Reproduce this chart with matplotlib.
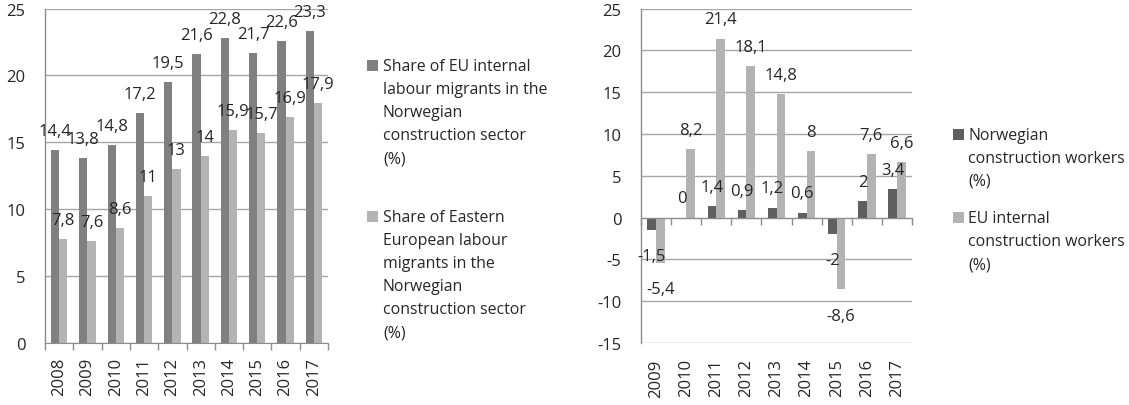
import matplotlib
matplotlib.use("Agg")
import matplotlib.pyplot as plt
from matplotlib.patches import Rectangle
from matplotlib.ticker import FixedLocator, NullFormatter

plt.rcParams['font.family'] = ['Open Sans', 'DejaVu Sans']

# ---------------- data ----------------
years_left = ['2008', '2009', '2010', '2011', '2012', '2013', '2014', '2015', '2016', '2017']
eu_share = [14.4, 13.8, 14.8, 17.2, 19.5, 21.6, 22.8, 21.7, 22.6, 23.3]
ee_share = [7.8, 7.6, 8.6, 11, 13, 14, 15.9, 15.7, 16.9, 17.9]
legend_left = ["Share of EU internal\nlabour migrants in the\nNorwegian\nconstruction sector\n(%)",
               "Share of Eastern\nEuropean labour\nmigrants in the\nNorwegian\nconstruction sector\n(%)"]

years_right = ['2009', '2010', '2011', '2012', '2013', '2014', '2015', '2016', '2017']
norw_growth = [-1.5, 0, 1.4, 0.9, 1.2, 0.6, -2, 2, 3.4]
eu_growth = [-5.4, 8.2, 21.4, 18.1, 14.8, 8, -8.6, 7.6, 6.6]
legend_right = ["Norwegian\nconstruction workers\n(%)",
                "EU internal\nconstruction workers\n(%)"]

yticks_left = [0, 5, 10, 15, 20, 25]
yticks_right = [-15, -10, -5, 0, 5, 10, 15, 20, 25]

# ---------------- style ----------------
W, H = 1129, 406
fig = plt.figure(figsize=(W / 100, H / 100), dpi=100)
TXT = '#262626'
GRID = '#a6a6a6'
FS = 12
FSL = 11.4
bw = 0.29


def fmt(v):
    return ('%g' % v).replace('.', ',')


def style_axes(ax, n, ymin, ymax, yticks):
    ax.set_xlim(-0.5, n - 0.5)
    ax.set_ylim(ymin, ymax)
    ax.set_yticks(yticks)
    ax.set_yticklabels([str(t) for t in yticks], fontsize=FS, color=TXT)
    ax.tick_params(axis='y', length=0, pad=14)
    ax.yaxis.grid(True, color=GRID, linewidth=1)
    ax.set_axisbelow(True)
    for s in ['top', 'right']:
        ax.spines[s].set_visible(False)
    ax.spines['left'].set_color('#8c8c8c')
    ax.spines['left'].set_linewidth(1)


def px_to_fig(x, y):
    return x / W, 1 - y / H


def legend(entries, colors, x_marker, x_text, y_first, line_h):
    for (label, color, yc) in zip(entries, colors, y_first):
        lines = label.split('\n')
        mx, my = px_to_fig(x_marker, yc + 5)
        fig.patches.append(Rectangle((mx, my), 11 / W, 11 / H, transform=fig.transFigure,
                                     facecolor=color, edgecolor='none'))
        for i, ln in enumerate(lines):
            tx, ty = px_to_fig(x_text, yc + i * line_h)
            fig.text(tx, ty, ln, fontsize=FSL, color=TXT, va='center', ha='left')


# ---------------- left chart ----------------
axL = fig.add_axes([45 / W, (H - 344) / H, (328 - 45) / W, (344 - 9.5) / H])
nL = len(years_left)
xL = list(range(nL))
c_dark_L, c_light = '#808080', '#b3b3b3'
b1 = axL.bar([x - bw / 2 for x in xL], eu_share, width=bw, color=c_dark_L, zorder=2)
b2 = axL.bar([x + bw / 2 for x in xL], ee_share, width=bw, color=c_light, zorder=2)
style_axes(axL, nL, 0, 25, yticks_left)
axL.set_xticks(xL)
axL.set_xticklabels(years_left, rotation=90, fontsize=FS, color=TXT)
axL.tick_params(axis='x', which='major', length=0, pad=10)
axL.xaxis.set_minor_locator(FixedLocator([i - 0.5 for i in range(nL + 1)]))
axL.tick_params(axis='x', which='minor', length=5, color='#8c8c8c', width=1)
axL.spines['bottom'].set_color('#8c8c8c')
for bars, vals in ((b1, eu_share), (b2, ee_share)):
    for r, v in zip(bars, vals):
        axL.annotate(fmt(v), (r.get_x() + r.get_width() / 2, v), xytext=(0, 8),
                     textcoords='offset points', ha='center', va='bottom',
                     fontsize=FS, color=TXT, zorder=5, annotation_clip=False)

legend(legend_left, [c_dark_L, c_light], 367, 383, [67, 218], 23)

# ---------------- right chart ----------------
axR = fig.add_axes([641 / W, (H - 344) / H, (912 - 641) / W, (344 - 9.5) / H])
nR = len(years_right)
xR = list(range(nR))
c_dark_R = '#5f5f5f'
r1 = axR.bar([x - bw / 2 for x in xR], norw_growth, width=bw, color=c_dark_R, zorder=2)
r2 = axR.bar([x + bw / 2 for x in xR], eu_growth, width=bw, color=c_light, zorder=2)
style_axes(axR, nR, -15, 25, yticks_right)
axR.spines['bottom'].set_position(('data', 0))
axR.spines['bottom'].set_color('#8c8c8c')
axR.set_xticks(xR)
axR.xaxis.set_major_formatter(NullFormatter())
axR.tick_params(axis='x', which='major', length=0)
axR.xaxis.set_minor_locator(FixedLocator([i - 0.5 for i in range(nR + 1)]))
axR.tick_params(axis='x', which='minor', length=5, color='#8c8c8c', width=1)
sec = axR.secondary_xaxis(0.0)
sec.set_xticks(xR)
sec.set_xticklabels(years_right, rotation=90, fontsize=FS, color=TXT)
sec.tick_params(length=0, pad=11)
sec.spines['bottom'].set_visible(False)
for bars, vals in ((r1, norw_growth), (r2, eu_growth)):
    for r, v in zip(bars, vals):
        if v >= 0:
            axR.annotate(fmt(v), (r.get_x() + r.get_width() / 2, v), xytext=(0, 8),
                         textcoords='offset points', ha='center', va='bottom',
                         fontsize=FS, color=TXT, zorder=5, annotation_clip=False)
        else:
            axR.annotate(fmt(v), (r.get_x() + r.get_width() / 2, v), xytext=(0, -13),
                         textcoords='offset points', ha='center', va='top',
                         fontsize=FS, color=TXT, zorder=5, annotation_clip=False)

legend(legend_right, [c_dark_R, c_light], 953, 968, [136, 219], 23)

fig.savefig('out.png', dpi=100)
